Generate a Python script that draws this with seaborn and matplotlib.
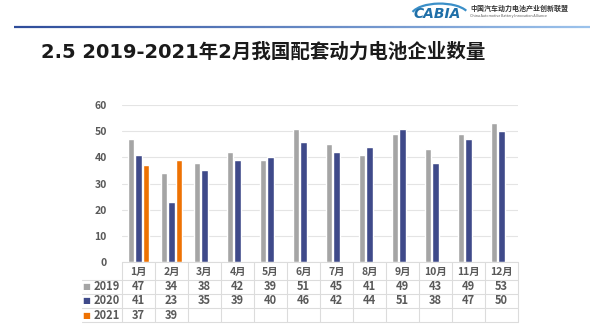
import numpy as np
import pandas as pd
import matplotlib
matplotlib.use("Agg")
import matplotlib.pyplot as plt
import matplotlib.transforms as mtransforms
from matplotlib.patches import Arc
import seaborn as sns

# Number of power-battery suppliers per month
months = ["1月", "2月", "3月", "4月", "5月", "6月", "7月", "8月", "9月", "10月", "11月", "12月"]
years = ["2019", "2020", "2021"]
v2019 = [47, 34, 38, 42, 39, 51, 45, 41, 49, 43, 49, 53]
v2020 = [41, 23, 35, 39, 40, 46, 42, 44, 51, 38, 47, 50]
v2021 = [37, 39]
colors = ["#A5A5A5", "#3F4A8A", "#EE7203"]

series = {"2019": v2019, "2020": v2020, "2021": v2021}
rows = []
for yr in years:
    for m, v in zip(months, series[yr]):
        rows.append({"month": m, "year": yr, "value": v})
df = pd.DataFrame(rows)

sns.set_theme(style="white")
plt.rcParams["font.family"] = ["Noto Sans CJK SC", "DejaVu Sans"]

W, H = 600, 331
fig = plt.figure(figsize=(W / 100, H / 100), dpi=100)
fig.patch.set_facecolor("white")


def fx(x):
    return x / W


def fy(y):
    return 1 - y / H


# Header band: rule line, logo and alliance name
n = 200
xs = np.linspace(14, 590, n + 1)
c0 = np.array(matplotlib.colors.to_rgb("#2E4C9A"))
c1 = np.array(matplotlib.colors.to_rgb("#9CC3EC"))
for i in range(n):
    t = i / n
    fig.add_artist(plt.Line2D([fx(xs[i]), fx(xs[i + 1])], [fy(26.5), fy(26.5)],
                              color=c0 * (1 - t) + c1 * t, lw=1.6,
                              transform=fig.transFigure, solid_capstyle="butt"))
fig.text(fx(437), fy(14.5), "CABIA", fontsize=10, style="italic", fontweight="bold",
         color="#1F6FA8", ha="center", va="center", family="DejaVu Sans")
fig.add_artist(Arc((fx(440), fy(16)), fx(58), 0.075, theta1=20, theta2=165,
                   color="#3B8FC8", lw=1.6, transform=fig.transFigure))
fig.text(fx(470), fy(8.5), "中国汽车动力电池产业创新联盟", fontsize=5, color="#333333",
         ha="left", va="center", fontweight="bold")
fig.text(fx(470), fy(15.5), "China Automotive Battery Innovation Alliance", fontsize=2.6,
         color="#555555", ha="left", va="center")

# Title
fig.text(fx(41), fy(52), "2.5 2019-2021年2月我国配套动力电池企业数量", fontsize=14,
         fontweight="bold", color="#1A1A1A", ha="left", va="center",
         family=["DejaVu Sans", "Noto Sans CJK SC"])

# Bar chart
ax = fig.add_axes([fx(122), fy(262), fx(396), (262 - 105) / H])
sns.barplot(data=df, x="month", y="value", hue="year", order=months, hue_order=years,
            palette=colors, width=0.68, gap=0.12, saturation=1, legend=False, ax=ax)
ax.set_xlim(-0.5, len(months) - 0.5)
ax.set_ylim(0, 60)
ax.set_yticks(range(0, 61, 10))
ax.yaxis.grid(True, color="#E4E4E4", lw=0.8)
ax.set_axisbelow(True)
for s in ax.spines.values():
    s.set_visible(False)
ax.set_xlabel("")
ax.set_ylabel("")
ax.set_xticks([])
ax.tick_params(axis="y", length=0, pad=11, labelsize=7.5, labelcolor="#595959")
for lab in ax.get_yticklabels():
    lab.set_fontweight("bold")

# Data table beneath the bars
trans = mtransforms.blended_transform_factory(ax.transData, fig.transFigure)
line_c = "#DCDCDC"
top, y_lines = 262, [280, 294, 308, 322]
row_centers = [287, 301, 315.5]
left = -0.5 - (122 - 82) / 33.0
for i in range(len(months) + 1):
    fig.add_artist(plt.Line2D([i - 0.5, i - 0.5], [fy(top), fy(322)], color=line_c,
                              lw=0.8, transform=trans))
fig.add_artist(plt.Line2D([-0.5, len(months) - 0.5], [fy(top), fy(top)], color=line_c,
                          lw=0.8, transform=trans))
for yl in y_lines:
    fig.add_artist(plt.Line2D([left, len(months) - 0.5], [fy(yl), fy(yl)], color=line_c,
                              lw=0.8, transform=trans))
txt_c = "#595959"
for i, m in enumerate(months):
    fig.text(i, fy(272), m, transform=trans, ha="center", va="center", fontsize=7.5,
             color=txt_c, fontweight="bold")
for r, yr in enumerate(years):
    yc = fy(row_centers[r])
    fig.text(-0.5 - 0.06, yc, yr, transform=trans, ha="right", va="center", fontsize=8,
             color=txt_c, fontweight="bold")
    fig.text(left + 0.12, yc, "■", transform=trans, ha="center", va="center", fontsize=6,
             color=colors[r], family="DejaVu Sans")
    for i, v in enumerate(series[yr]):
        fig.text(i, yc, str(v), transform=trans, ha="center", va="center", fontsize=8,
                 color=txt_c, fontweight="bold")

fig.savefig("out.png", dpi=100)
